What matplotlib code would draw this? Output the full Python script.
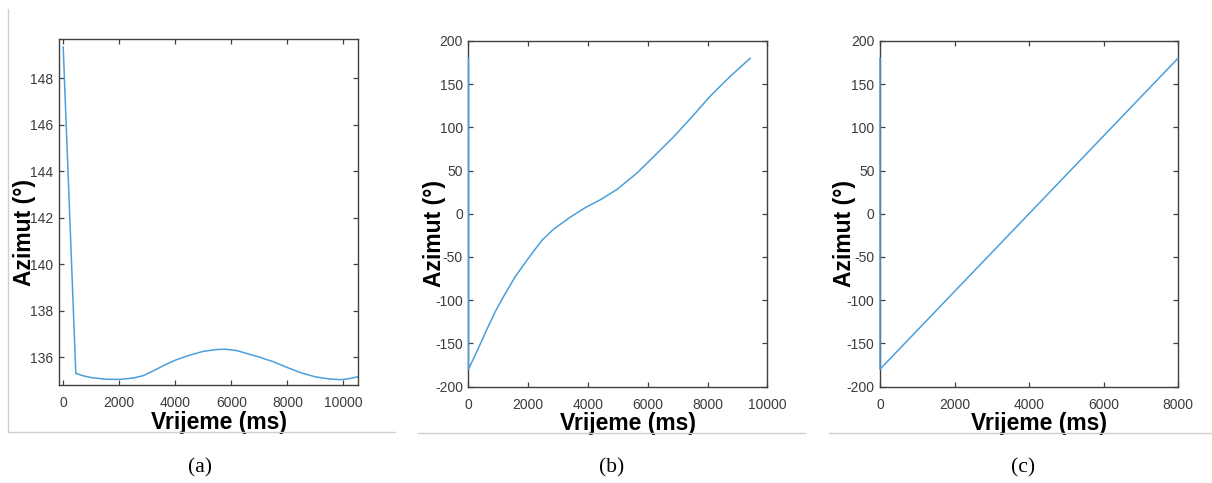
import matplotlib
matplotlib.use('Agg')
import matplotlib.pyplot as plt
from matplotlib.lines import Line2D

# panel (a)
a_time = [0, 450, 700, 1000, 1500, 2000, 2500, 2850, 3200, 3600, 4000, 4500, 5000,
          5500, 5800, 6200, 6600, 7000, 7500, 8000, 8500, 9000, 9500, 9900, 10200, 10500]
a_azimuth = [149.35, 135.3, 135.2, 135.12, 135.05, 135.04, 135.1, 135.2, 135.4, 135.65,
             135.87, 136.08, 136.25, 136.33, 136.34, 136.28, 136.14, 136.0, 135.8, 135.55,
             135.32, 135.15, 135.06, 135.03, 135.07, 135.15]

# panel (b)
b_time = [0, 0, 300, 600, 900, 1170, 1560, 1950, 2450, 2840, 3400, 3900,
          4400, 4960, 5630, 6190, 6860, 7520, 8080, 8750, 9420]
b_azimuth = [180, -180, -158, -135, -113, -96, -73, -54, -31, -18, -4, 7,
             16, 28, 47, 66, 89, 114, 136, 159, 180]

# panel (c)
c_time = [0, 0, 8000]
c_azimuth = [180, -180, 180]

captions = ['(a)', '(b)', '(c)']

W, H = 1212, 483
line_col = '#4a9fdc'
spine_col = '#404040'
frame_col = '#d0d0d0'

plt.rcParams['font.family'] = ['Liberation Sans', 'DejaVu Sans']
plt.rcParams['axes.unicode_minus'] = False

fig = plt.figure(figsize=(W / 100, H / 100), dpi=100)


def px_axes(left, top, right, bottom):
  return fig.add_axes([left / W, 1 - bottom / H, (right - left) / W, (bottom - top) / H])


def fline(x0, y0, x1, y1):
  fig.add_artist(Line2D([x0 / W, x1 / W], [1 - y0 / H, 1 - y1 / H],
                        transform=fig.transFigure, color=frame_col, lw=1))


axs = [
  px_axes(59, 39, 358, 385),
  px_axes(468.5, 41, 767.5, 386.5),
  px_axes(880, 41, 1178, 386.5),
]

axs[0].plot(a_time, a_azimuth, color=line_col, lw=1.1)
axs[0].set_xlim(-150, 10520)
axs[0].set_ylim(134.8, 149.7)
axs[0].set_yticks(range(136, 149, 2))
axs[0].set_xticks(range(0, 10001, 2000))

axs[1].plot(b_time, b_azimuth, color=line_col, lw=1.1, clip_on=False, zorder=3)
axs[1].set_xlim(0, 10000)
axs[1].set_ylim(-200, 200)
axs[1].set_yticks(range(-200, 201, 50))
axs[1].set_xticks(range(0, 10001, 2000))

axs[2].plot(c_time, c_azimuth, color=line_col, lw=1.1, clip_on=False, zorder=3)
axs[2].set_xlim(0, 8000)
axs[2].set_ylim(-200, 200)
axs[2].set_yticks(range(-200, 201, 50))
axs[2].set_xticks(range(0, 8001, 2000))

ylab_x = [-0.078, -0.076, -0.080]
for i, ax in enumerate(axs):
  for sp in ax.spines.values():
    sp.set_color(spine_col)
    sp.set_linewidth(1.0)
  ax.tick_params(direction='in', top=True, right=True, length=3.5, width=0.9,
                 color=spine_col, labelcolor='#3c3c3c', labelsize=10)
  ax.tick_params(axis='x', pad=8)
  ax.tick_params(axis='y', pad=4)
  ax.set_xlabel('Vrijeme (ms)', fontsize=16.5, fontweight='bold')
  ax.set_ylabel('Azimut (°)', fontsize=16.5, fontweight='bold')
  ax.xaxis.set_label_coords(0.535, -0.074)
  ax.yaxis.set_label_coords(ylab_x[i], 0.442)

# gray screenshot frames
fline(8, 9, 8, 432)
fline(8, 432, 395, 432)
fline(418, 432.5, 805, 432.5)
fline(829, 432.5, 1212, 432.5)

cap_x = [200, 612, 1023]
for cx, cap in zip(cap_x, captions):
  fig.text(cx / W, 1 - 468 / H, cap, ha='center', va='center', fontsize=15.5,
           family=['Liberation Serif', 'DejaVu Serif'])

plt.savefig('out.png', dpi=100)
